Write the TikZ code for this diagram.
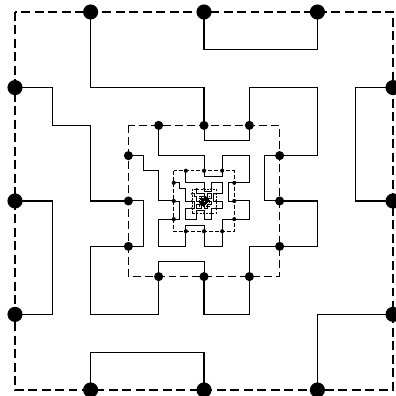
\documentclass[tikz,border=0pt]{standalone}
\usepackage{tikz}

\begin{document}
\begin{tikzpicture}[x=1cm, y=-1cm,
    rim/.style={draw=black},
    wire/.style={draw=black, line join=miter},
    port/.style={fill=black}
  ]
  \useasboundingbox (-0.397,-0.317) rectangle (10.053,10.159);

  % one ring per level, each 0.4 times the one outside it
  \foreach \s/\w/\r/\d/\g in {1/0.95/0.2/6.75/3.4, 0.4/0.75/0.3/6/3,
        0.16/0.6/0.34/3/1.5, 0.064/0.45/0.42/1.5/0.9,
        0.0256/0.35/0.5/0.8/0.6, 0.01024/0.3/0.6/0.5/0.4} {
    \begin{scope}[shift={({5-5*\s},{5-5*\s})}, scale=\s, line width=\w pt]
      \draw[rim, dash pattern=on \d pt off \g pt] (0,0) rectangle (10,10);

      \draw[wire] (2,0) |- (5,2) -- (5,3);
      \draw[wire] (5,0) -- (5,1) -| (8,0);
      \draw[wire] (0,2) -| (1,3) -| (2,5) -- (3,5);
      \draw[wire] (0,5) -| (1,8) -- (0,8);
      \draw[wire] (3,6.2) -| (2,8) -| (3.8,7);
      \draw[wire] (2,10) |- (5,9) -- (5,10);
      \draw[wire] (8,10) |- (10,8);
      \draw[wire] (6.2,7) |- (5,8) -- (5,7);
      \draw[wire] (10,2) -| (9,5) -- (10,5);
      \draw[wire] (7,3.8) -| (8,2) -| (6.2,3);
      \draw[wire] (7,5) -| (8,6.2) -- (7,6.2);

      \foreach \t in {2,5,8} {
        \fill[port] (\t,0) circle (\r);
        \fill[port] (\t,10) circle (\r);
        \fill[port] (0,\t) circle (\r);
        \fill[port] (10,\t) circle (\r);
      }
    \end{scope}
  }
\end{tikzpicture}
\end{document}
